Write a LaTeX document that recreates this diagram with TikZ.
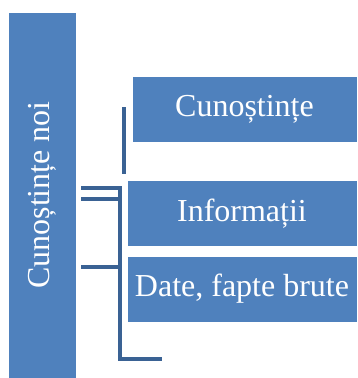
\documentclass[tikz,border=0pt]{standalone}
\usepackage{fontspec}
\setmainfont{Liberation Serif}
\definecolor{boxBlue}{RGB}{79,129,189}
\definecolor{lineBlue}{RGB}{58,98,148}
\tikzset{
  levelbox/.style={fill=boxBlue,draw=white,line width=0.6pt,text=white,
    inner sep=0pt,font=\fontsize{32}{38}\selectfont},
  bracketline/.style={draw=lineBlue,line width=4pt}
}

\begin{document}
\begin{tikzpicture}[x=1pt,y=-1pt]
\useasboundingbox (0,0) rectangle (357,378);
% left column
\node[levelbox,minimum width=68pt,minimum height=366pt] (noi) at (42,195)
  {\rotatebox{90}{Cunoștințe noi}};
% levels on the right
\foreach \nm/\cx/\cy/\bw/\txt in {cun/244.5/109/225/Cunoștințe,
                                  inf/242/213.5/230/Informații,
                                  dat/242/289/230/{Date, fapte brute}}
{
	\node[levelbox,minimum width=\bw pt,minimum height=66pt] (\nm) at (\cx,\cy) {\txt};
}
% brackets
\coordinate (topA) at (81,188);
\coordinate (topB) at (120,188);
\coordinate (botB) at (120,359);
\coordinate (botC) at (162,359);
\coordinate (midA) at (81,199);
\coordinate (midB) at (118,199);
\coordinate (lowA) at (81,267);
\coordinate (lowB) at (120,267);
\coordinate (upA) at (124,107);
\coordinate (upB) at (124,174);
\draw[bracketline] (topA) -- (topB) -- (botB) -- (botC);
\draw[bracketline] (midA) -- (midB);
\draw[bracketline] (lowA) -- (lowB);
\draw[bracketline] (upA) -- (upB);
\end{tikzpicture}
\end{document}
